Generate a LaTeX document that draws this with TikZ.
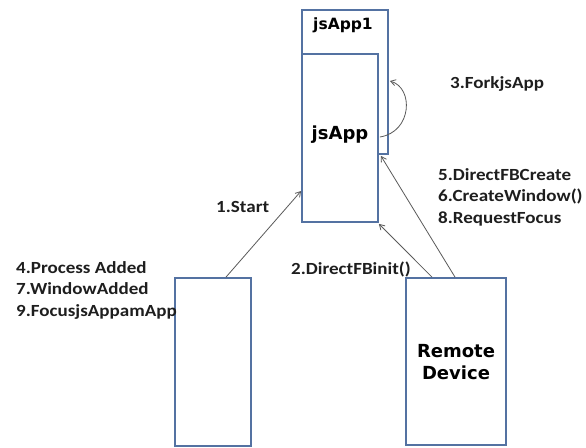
\documentclass[tikz,border=0pt]{standalone}
\usepackage{fontspec}
\setmainfont{Carlito}[FakeStretch=1.12]
\newfontfamily\boxfont{DejaVu Sans}
\usetikzlibrary{arrows.meta,calc}
\definecolor{boxblue}{RGB}{84,114,162}
\definecolor{arrowgray}{RGB}{90,90,90}
\definecolor{txt}{RGB}{30,30,30}
\begin{document}
\begin{tikzpicture}[x=1pt,y=-1pt,
  procbox/.style={draw=boxblue,line width=1.8pt,fill=white,inner sep=0pt},
  lbl/.style={anchor=west,inner sep=0pt,align=left,text=txt,font=\fontsize{17}{21.5}\selectfont\bfseries},
  boxlbl/.style={inner sep=0pt,align=center,text=black,font=\boxfont\bfseries},
  conn/.style={draw=arrowgray,line width=0.8pt,-{Straight Barb[length=5pt,width=6pt]}}]
\useasboundingbox (0,0) rectangle (586,447);
\fill[white] (0,0) rectangle (586,447);
% boxes
\node[procbox,minimum width=86pt,minimum height=144pt] (jsapp1) at (345,82) {};
\node[boxlbl,font=\boxfont\bfseries\fontsize{15.5}{17}\selectfont] (jsapp1lbl) at (343,25) {jsApp1};
\node[procbox,minimum width=76pt,minimum height=168pt] (jsapp) at (340,138) {};
\node[boxlbl,font=\boxfont\bfseries\fontsize{18}{20}\selectfont] (jsapplbl) at (340,135) {jsApp};
\node[procbox,minimum width=76pt,minimum height=168pt] (left) at (213,362) {};
\node[procbox,minimum width=100pt,minimum height=167pt] (remote) at (456,361.5) {};
\node[boxlbl,font=\boxfont\bfseries\fontsize{18}{22}\selectfont] (remotelbl) at (456,362) {Remote\\Device};
% connectors
\draw[conn] ($(left.north)+(13,0)$) -- ($(jsapp.west)+(0,53)$);
\draw[conn] ($(remote.north)+(-24,0)$) -- ($(jsapp.south east)+(0,1)$);
\draw[conn] ($(remote.north)+(-1,0)$) -- ($(jsapp1.south east)+(-8,1)$);
\draw[conn] ($(jsapp.east)+(1,-1)$) .. controls (412,132) and (414,88) .. ($(jsapp1.east)+(1,-1)$);
% labels
\node[lbl] (l1) at (216,207) {1.Start};
\node[lbl] (l2) at (291,269) {2.DirectFBinit()};
\node[lbl] (l3) at (450,84) {3.ForkjsApp};
\node[lbl] (l5) at (438,197) {5.DirectFBCreate\\6.CreateWindow()\\8.RequestFocus};
\node[lbl] (l4) at (16,290) {4.Process Added\\7.WindowAdded\\9.FocusjsAppamApp};
\end{tikzpicture}
\end{document}
